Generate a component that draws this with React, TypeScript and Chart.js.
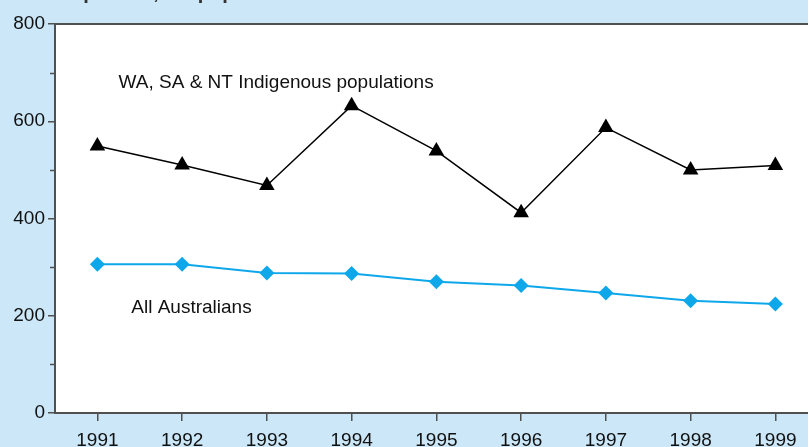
import { useEffect, useRef } from 'react';
import { Chart, registerables } from 'chart.js';

Chart.register(...registerables);

// ---- data ----
const years = [1991, 1992, 1993, 1994, 1995, 1996, 1997, 1998, 1999];
const indigenous = [549, 510, 468, 632, 539, 412, 587, 500, 509];
const allAustralians = [306, 306, 288, 287, 270, 262, 247, 231, 224];
const yMajorTicks = [0, 200, 400, 600, 800];
const yMinorTicks = [100, 300, 500, 700];
const titleText = 'Deaths per 100,000 population';
const seriesNames = ['WA, SA & NT Indigenous populations', 'All Australians'];
// label anchors in data units [x, y]
const seriesLabelAnchors: [number, number][] = [
  [1991.25, 679],
  [1991.4, 217],
];

const BG = '#cbe7f8';
const AXIS = '#505050';
const BLUE = '#0ea8ea';
const FONT = '"Liberation Sans", Arial, Helvetica, sans-serif';
const OFFSET = 20; // canvas is shifted up so the title is clipped

export default function App() {
  const ref = useRef<HTMLCanvasElement | null>(null);

  useEffect(() => {
    const canvas = ref.current;
    if (!canvas) return;

    const framePlugin = {
      id: 'frame',
      beforeDraw(chart: any) {
        const { ctx, chartArea } = chart;
        ctx.save();
        ctx.fillStyle = BG;
        ctx.fillRect(0, 0, chart.width, chart.height);
        ctx.fillStyle = '#ffffff';
        ctx.fillRect(chartArea.left, chartArea.top, chartArea.right - chartArea.left, chartArea.bottom - chartArea.top);
        // title
        ctx.fillStyle = '#333333';
        ctx.font = `bold 20px ${FONT}`;
        ctx.textBaseline = 'alphabetic';
        ctx.textAlign = 'left';
        ctx.fillText(titleText, 11, OFFSET - 1);
        ctx.restore();
      },
      afterDraw(chart: any) {
        const { ctx, chartArea } = chart;
        const y = chart.scales.y;
        ctx.save();
        ctx.strokeStyle = AXIS;
        ctx.lineWidth = 2;
        ctx.beginPath();
        ctx.moveTo(chartArea.left - 1, chartArea.top);
        ctx.lineTo(chartArea.right, chartArea.top);
        ctx.stroke();
        ctx.lineWidth = 1.5;
        for (const v of yMinorTicks) {
          const py = Math.round(y.getPixelForValue(v)) + 0.5;
          ctx.beginPath();
          ctx.moveTo(chartArea.left - 5, py);
          ctx.lineTo(chartArea.left, py);
          ctx.stroke();
        }
        ctx.restore();
      },
      afterDatasetsDraw(chart: any) {
        const { ctx } = chart;
        const x = chart.scales.x;
        const y = chart.scales.y;
        ctx.save();
        ctx.fillStyle = '#111111';
        ctx.font = `19px ${FONT}`;
        ctx.textBaseline = 'middle';
        ctx.textAlign = 'left';
        seriesNames.forEach((name, i) => {
          const [ax, ay] = seriesLabelAnchors[i];
          ctx.fillText(name, x.getPixelForValue(ax), y.getPixelForValue(ay));
        });
        ctx.restore();
      },
    };

    const chart = new Chart(canvas, {
      type: 'line',
      data: {
        datasets: [
          {
            label: seriesNames[0],
            data: years.map((yr, i) => ({ x: yr, y: indigenous[i] })),
            borderColor: '#000000',
            borderWidth: 1.5,
            pointStyle: 'triangle',
            pointRadius: 9,
            pointBackgroundColor: '#000000',
            pointBorderColor: '#000000',
            pointBorderWidth: 0,
            tension: 0,
          },
          {
            label: seriesNames[1],
            data: years.map((yr, i) => ({ x: yr, y: allAustralians[i] })),
            borderColor: BLUE,
            borderWidth: 2,
            pointStyle: 'rectRot',
            pointRadius: 7.5,
            pointBackgroundColor: BLUE,
            pointBorderColor: BLUE,
            pointBorderWidth: 0,
            tension: 0,
          },
        ],
      },
      options: {
        responsive: false,
        animation: false,
        devicePixelRatio: 1,
        clip: false,
        layout: { autoPadding: false, padding: { top: 44, left: 0, right: 0, bottom: 0 } },
        plugins: {
          legend: { display: false },
          tooltip: { enabled: false },
          title: { display: false },
        },
        scales: {
          x: {
            type: 'linear',
            min: 1990.5,
            max: 1990.5 + 753 / 84.75,
            afterFit(scale: any) {
              scale.height = 47;
              scale.paddingLeft = 0;
              scale.paddingRight = 0;
            },
            afterBuildTicks(scale: any) {
              scale.ticks = years.map((v) => ({ value: v }));
            },
            ticks: {
              callback: (v: any) => String(v),
              autoSkip: false,
              maxRotation: 0,
              color: '#111111',
              font: { family: FONT, size: 19 },
              padding: 8,
            },
            grid: {
              drawOnChartArea: false,
              drawTicks: true,
              tickLength: 8,
              color: AXIS,
              lineWidth: 1.5,
            },
            border: { display: true, color: AXIS, width: 2 },
          },
          y: {
            min: 0,
            max: 800,
            afterFit(scale: any) {
              scale.width = 55;
              scale.paddingTop = 0;
              scale.paddingBottom = 0;
            },
            afterBuildTicks(scale: any) {
              scale.ticks = yMajorTicks.map((v) => ({ value: v }));
            },
            ticks: {
              color: '#111111',
              font: { family: FONT, size: 19 },
              padding: 3,
            },
            grid: {
              drawOnChartArea: false,
              drawTicks: true,
              tickLength: 7,
              color: AXIS,
              lineWidth: 1.5,
            },
            border: { display: true, color: AXIS, width: 2 },
          },
        },
      },
      plugins: [framePlugin],
    });

    return () => chart.destroy();
  }, []);

  return (
    <div
      style={{
        position: 'fixed',
        left: 0,
        top: 0,
        width: 808,
        height: 447,
        overflow: 'hidden',
        background: BG,
      }}
    >
      <canvas
        ref={ref}
        width={808}
        height={480}
        style={{ position: 'absolute', left: 0, top: -OFFSET, width: 808, height: 480 }}
      />
    </div>
  );
}
